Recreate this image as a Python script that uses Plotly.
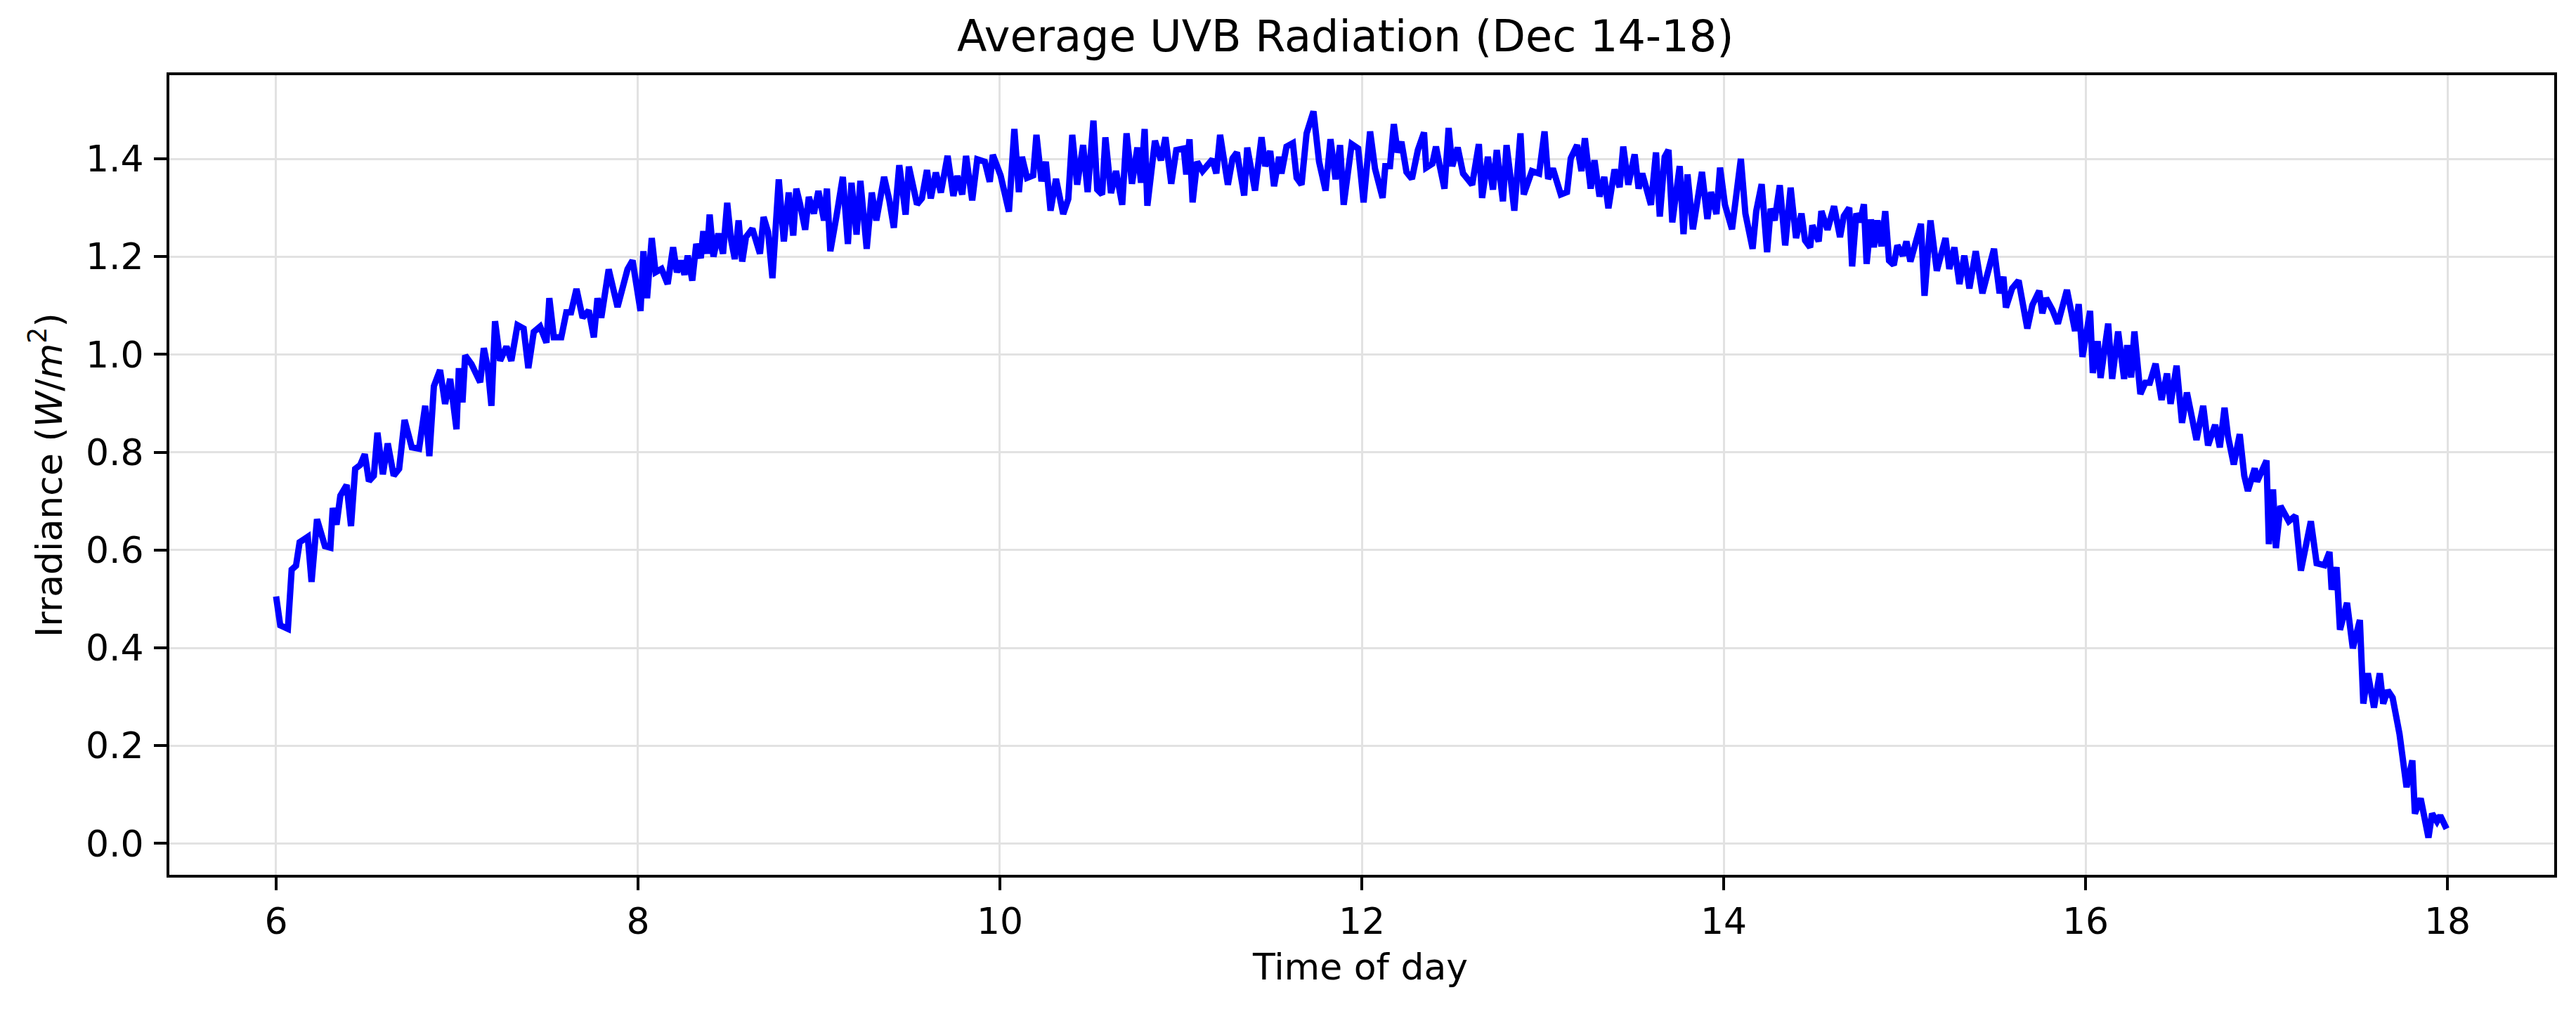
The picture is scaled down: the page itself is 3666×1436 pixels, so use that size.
import plotly.graph_objects as go

# ---- data (hour of day, irradiance W/m^2) ----
hours = [
    6.000, 6.023, 6.065, 6.086, 6.110, 6.130, 6.175, 6.196, 6.226, 6.270,
    6.300, 6.313, 6.334, 6.355, 6.390, 6.414, 6.437, 6.465, 6.490, 6.513,
    6.540, 6.560, 6.590, 6.617, 6.650, 6.680, 6.710, 6.750, 6.790, 6.824,
    6.847, 6.872, 6.906, 6.934, 6.962, 6.997, 7.010, 7.030, 7.045, 7.080,
    7.128, 7.148, 7.170, 7.190, 7.210, 7.238, 7.273, 7.300, 7.334, 7.368,
    7.394, 7.424, 7.459, 7.494, 7.510, 7.535, 7.576, 7.604, 7.630, 7.660,
    7.694, 7.728, 7.756, 7.776, 7.797, 7.838, 7.887, 7.942, 7.970, 8.014,
    8.030, 8.050, 8.076, 8.097, 8.130, 8.164, 8.194, 8.215, 8.236, 8.257,
    8.275, 8.300, 8.322, 8.347, 8.361, 8.382, 8.396, 8.417, 8.444, 8.470,
    8.493, 8.514, 8.535, 8.556, 8.576, 8.597, 8.632, 8.674, 8.694, 8.719,
    8.743, 8.778, 8.806, 8.833, 8.858, 8.875, 8.896, 8.924, 8.944, 8.972,
    8.997, 9.028, 9.044, 9.063, 9.097, 9.132, 9.160, 9.180, 9.208, 9.229,
    9.264, 9.292, 9.317, 9.360, 9.389, 9.414, 9.444, 9.479, 9.497, 9.542,
    9.569, 9.597, 9.618, 9.646, 9.674, 9.711, 9.743, 9.764, 9.792, 9.813,
    9.847, 9.875, 9.917, 9.944, 9.961, 10.004, 10.050, 10.080, 10.105, 10.122,
    10.150, 10.184, 10.202, 10.230, 10.254, 10.280, 10.310, 10.350, 10.378, 10.400,
    10.427, 10.460, 10.485, 10.517, 10.538, 10.565, 10.583, 10.614, 10.642, 10.676,
    10.700, 10.730, 10.760, 10.780, 10.800, 10.815, 10.857, 10.890, 10.915, 10.947,
    10.975, 11.016, 11.030, 11.048, 11.065, 11.090, 11.120, 11.175, 11.196, 11.217,
    11.260, 11.286, 11.310, 11.350, 11.367, 11.410, 11.446, 11.466, 11.494, 11.515,
    11.543, 11.556, 11.584, 11.619, 11.640, 11.667, 11.695, 11.733, 11.764, 11.800,
    11.827, 11.855, 11.880, 11.900, 11.944, 11.980, 12.010, 12.046, 12.073, 12.115,
    12.130, 12.156, 12.177, 12.198, 12.219, 12.247, 12.277, 12.310, 12.344, 12.356,
    12.390, 12.410, 12.430, 12.457, 12.480, 12.500, 12.530, 12.560, 12.610, 12.647,
    12.665, 12.697, 12.725, 12.746, 12.780, 12.800, 12.820, 12.843, 12.877, 12.895,
    12.940, 12.980, 13.010, 13.030, 13.056, 13.100, 13.134, 13.155, 13.190, 13.214,
    13.233, 13.265, 13.286, 13.314, 13.340, 13.363, 13.397, 13.425, 13.445, 13.473,
    13.508, 13.530, 13.550, 13.598, 13.626, 13.647, 13.674, 13.695, 13.716, 13.757,
    13.778, 13.800, 13.830, 13.880, 13.910, 13.930, 13.960, 13.980, 14.007, 14.046,
    14.095, 14.120, 14.160, 14.180, 14.210, 14.240, 14.260, 14.282, 14.310, 14.340,
    14.370, 14.400, 14.430, 14.450, 14.478, 14.490, 14.525, 14.540, 14.574, 14.610,
    14.643, 14.664, 14.694, 14.710, 14.733, 14.754, 14.775, 14.790, 14.814, 14.830,
    14.850, 14.872, 14.893, 14.914, 14.940, 14.960, 14.990, 15.010, 15.032, 15.060,
    15.090, 15.110, 15.143, 15.178, 15.226, 15.247, 15.275, 15.303, 15.330, 15.358,
    15.393, 15.430, 15.463, 15.494, 15.525, 15.546, 15.560, 15.594, 15.630, 15.650,
    15.678, 15.706, 15.744, 15.761, 15.782, 15.817, 15.847, 15.897, 15.942, 15.962,
    15.983, 16.025, 16.040, 16.067, 16.083, 16.125, 16.147, 16.180, 16.213, 16.230,
    16.252, 16.270, 16.303, 16.330, 16.355, 16.387, 16.420, 16.450, 16.470, 16.503,
    16.533, 16.560, 16.613, 16.650, 16.677, 16.716, 16.742, 16.768, 16.787, 16.819,
    16.852, 16.877, 16.897, 16.935, 16.948, 17.000, 17.013, 17.036, 17.052, 17.077,
    17.123, 17.160, 17.190, 17.245, 17.277, 17.320, 17.348, 17.360, 17.387, 17.406,
    17.445, 17.477, 17.516, 17.535, 17.560, 17.594, 17.626, 17.645, 17.670, 17.697,
    17.735, 17.774, 17.806, 17.820, 17.852, 17.895, 17.915, 17.942, 17.960, 17.995,
]

irradiance = [
    0.505, 0.446, 0.439, 0.560, 0.568, 0.616, 0.627, 0.535, 0.663, 0.608,
    0.605, 0.686, 0.652, 0.711, 0.733, 0.649, 0.766, 0.774, 0.796, 0.741,
    0.752, 0.840, 0.755, 0.818, 0.752, 0.766, 0.866, 0.810, 0.807, 0.895,
    0.792, 0.935, 0.968, 0.899, 0.950, 0.847, 0.972, 0.902, 0.998, 0.980,
    0.943, 1.013, 0.972, 0.895, 1.068, 0.987, 1.016, 0.987, 1.060, 1.053,
    0.972, 1.046, 1.057, 1.024, 1.115, 1.035, 1.035, 1.086, 1.086, 1.134,
    1.075, 1.090, 1.035, 1.115, 1.075, 1.174, 1.097, 1.174, 1.192, 1.089,
    1.211, 1.115, 1.238, 1.168, 1.175, 1.144, 1.219, 1.168, 1.192, 1.163,
    1.202, 1.151, 1.226, 1.197, 1.252, 1.206, 1.286, 1.200, 1.247, 1.206,
    1.310, 1.235, 1.195, 1.274, 1.190, 1.240, 1.257, 1.206, 1.281, 1.250,
    1.156, 1.358, 1.231, 1.331, 1.243, 1.339, 1.307, 1.255, 1.322, 1.288,
    1.334, 1.274, 1.339, 1.211, 1.283, 1.363, 1.226, 1.351, 1.245, 1.355,
    1.216, 1.331, 1.274, 1.363, 1.315, 1.259, 1.387, 1.286, 1.384, 1.307,
    1.319, 1.377, 1.319, 1.372, 1.331, 1.406, 1.324, 1.365, 1.327, 1.406,
    1.315, 1.399, 1.394, 1.353, 1.408, 1.366, 1.292, 1.461, 1.332, 1.404,
    1.361, 1.366, 1.449, 1.354, 1.394, 1.294, 1.359, 1.287, 1.318, 1.449,
    1.347, 1.428, 1.332, 1.478, 1.337, 1.327, 1.444, 1.330, 1.375, 1.306,
    1.452, 1.349, 1.423, 1.351, 1.461, 1.304, 1.437, 1.397, 1.444, 1.349,
    1.418, 1.421, 1.368, 1.440, 1.311, 1.394, 1.375, 1.399, 1.370, 1.449,
    1.347, 1.401, 1.413, 1.325, 1.423, 1.335, 1.444, 1.385, 1.416, 1.344,
    1.404, 1.370, 1.425, 1.432, 1.361, 1.347, 1.452, 1.497, 1.394, 1.335,
    1.440, 1.358, 1.428, 1.306, 1.430, 1.421, 1.311, 1.456, 1.380, 1.320,
    1.385, 1.385, 1.471, 1.413, 1.435, 1.373, 1.359, 1.418, 1.454, 1.382,
    1.390, 1.425, 1.387, 1.339, 1.463, 1.385, 1.423, 1.370, 1.347, 1.430,
    1.320, 1.404, 1.337, 1.418, 1.313, 1.428, 1.368, 1.294, 1.452, 1.327,
    1.375, 1.370, 1.456, 1.359, 1.380, 1.327, 1.332, 1.401, 1.428, 1.375,
    1.442, 1.339, 1.397, 1.323, 1.363, 1.299, 1.378, 1.342, 1.425, 1.347,
    1.409, 1.339, 1.370, 1.306, 1.413, 1.282, 1.404, 1.418, 1.270, 1.385,
    1.246, 1.368, 1.256, 1.373, 1.277, 1.332, 1.287, 1.382, 1.306, 1.256,
    1.400, 1.288, 1.216, 1.293, 1.348, 1.209, 1.298, 1.274, 1.346, 1.223,
    1.341, 1.238, 1.288, 1.233, 1.219, 1.264, 1.231, 1.293, 1.255, 1.303,
    1.240, 1.283, 1.300, 1.180, 1.288, 1.271, 1.307, 1.185, 1.276, 1.219,
    1.274, 1.221, 1.293, 1.192, 1.183, 1.223, 1.202, 1.231, 1.190, 1.226,
    1.267, 1.120, 1.274, 1.171, 1.238, 1.175, 1.219, 1.144, 1.202, 1.135,
    1.211, 1.125, 1.173, 1.216, 1.125, 1.159, 1.096, 1.135, 1.151, 1.101,
    1.053, 1.101, 1.130, 1.084, 1.115, 1.091, 1.063, 1.132, 1.048, 1.103,
    0.995, 1.089, 0.962, 1.027, 0.952, 1.063, 0.950, 1.047, 0.950, 1.019,
    0.953, 1.047, 0.919, 0.942, 0.942, 0.981, 0.907, 0.961, 0.899, 0.977,
    0.860, 0.922, 0.825, 0.895, 0.814, 0.856, 0.810, 0.891, 0.833, 0.775,
    0.837, 0.752, 0.721, 0.767, 0.740, 0.783, 0.612, 0.724, 0.604, 0.690,
    0.659, 0.670, 0.558, 0.659, 0.573, 0.569, 0.596, 0.519, 0.565, 0.437,
    0.492, 0.399, 0.457, 0.286, 0.348, 0.278, 0.348, 0.286, 0.313, 0.298,
    0.224, 0.115, 0.170, 0.061, 0.092, 0.012, 0.061, 0.045, 0.057, 0.030,
]

x_ticks = [6, 8, 10, 12, 14, 16, 18]
x_tick_labels = ["6", "8", "10", "12", "14", "16", "18"]
y_ticks = [0.0, 0.2, 0.4, 0.6, 0.8, 1.0, 1.2, 1.4]
y_tick_labels = ["0.0", "0.2", "0.4", "0.6", "0.8", "1.0", "1.2", "1.4"]

title_text = "Average UVB Radiation (Dec 14-18)"
x_label = "Time of day"
y_label = "Irradiance (<i>W</i>/<i>m</i><sup>2</sup>)"

# ---- layout geometry (pixels) ----
W, H = 3666, 1436
L, R, T, B = 241, 3635, 107, 1245
PW, PH = R - L, B - T


def px_x(p):
    return (p - L) / PW


def px_y(p):
    return (B - p) / PH


FONT = "DejaVu Sans, Verdana, sans-serif"

fig = go.Figure()
fig.add_trace(go.Scatter(
    x=hours, y=irradiance, mode="lines",
    line=dict(color="#0000ff", width=9),
    hoverinfo="skip", showlegend=False,
))

axis_common = dict(
    ticks="outside", ticklen=18, tickwidth=3.5, tickcolor="black",
    showline=True, linecolor="black", linewidth=4, mirror=True,
    showgrid=True, gridcolor="#e2e2e2", gridwidth=2.5,
    zeroline=False, tickfont=dict(family=FONT, size=52, color="black"),
    tickmode="array",
)

fig.update_xaxes(range=[5.41, 18.59], tickvals=x_ticks, ticktext=x_tick_labels,
                 **axis_common)
fig.update_yaxes(range=[-0.064, 1.571], tickvals=y_ticks, ticktext=y_tick_labels,
                 ticklabelstandoff=4, **axis_common)

fig.update_layout(
    width=W, height=H,
    margin=dict(l=L, r=W - R, t=T, b=H - B, pad=0, autoexpand=False),
    paper_bgcolor="white", plot_bgcolor="white",
    font=dict(family=FONT, size=52, color="black"),
    showlegend=False,
    annotations=[
        dict(text=title_text, xref="paper", yref="paper",
             x=px_x(1914), y=px_y(51.5), xanchor="center", yanchor="middle",
             showarrow=False, font=dict(family=FONT, size=62, color="black")),
        dict(text=x_label, xref="paper", yref="paper",
             x=px_x(1935), y=px_y(1376), xanchor="center", yanchor="middle",
             showarrow=False, font=dict(family=FONT, size=52, color="black")),
        dict(text=y_label, xref="paper", yref="paper",
             x=px_x(66), y=px_y(676), xanchor="center", yanchor="middle",
             textangle=-90,
             showarrow=False, font=dict(family=FONT, size=52, color="black")),
    ],
)

fig.write_html("out.html")
